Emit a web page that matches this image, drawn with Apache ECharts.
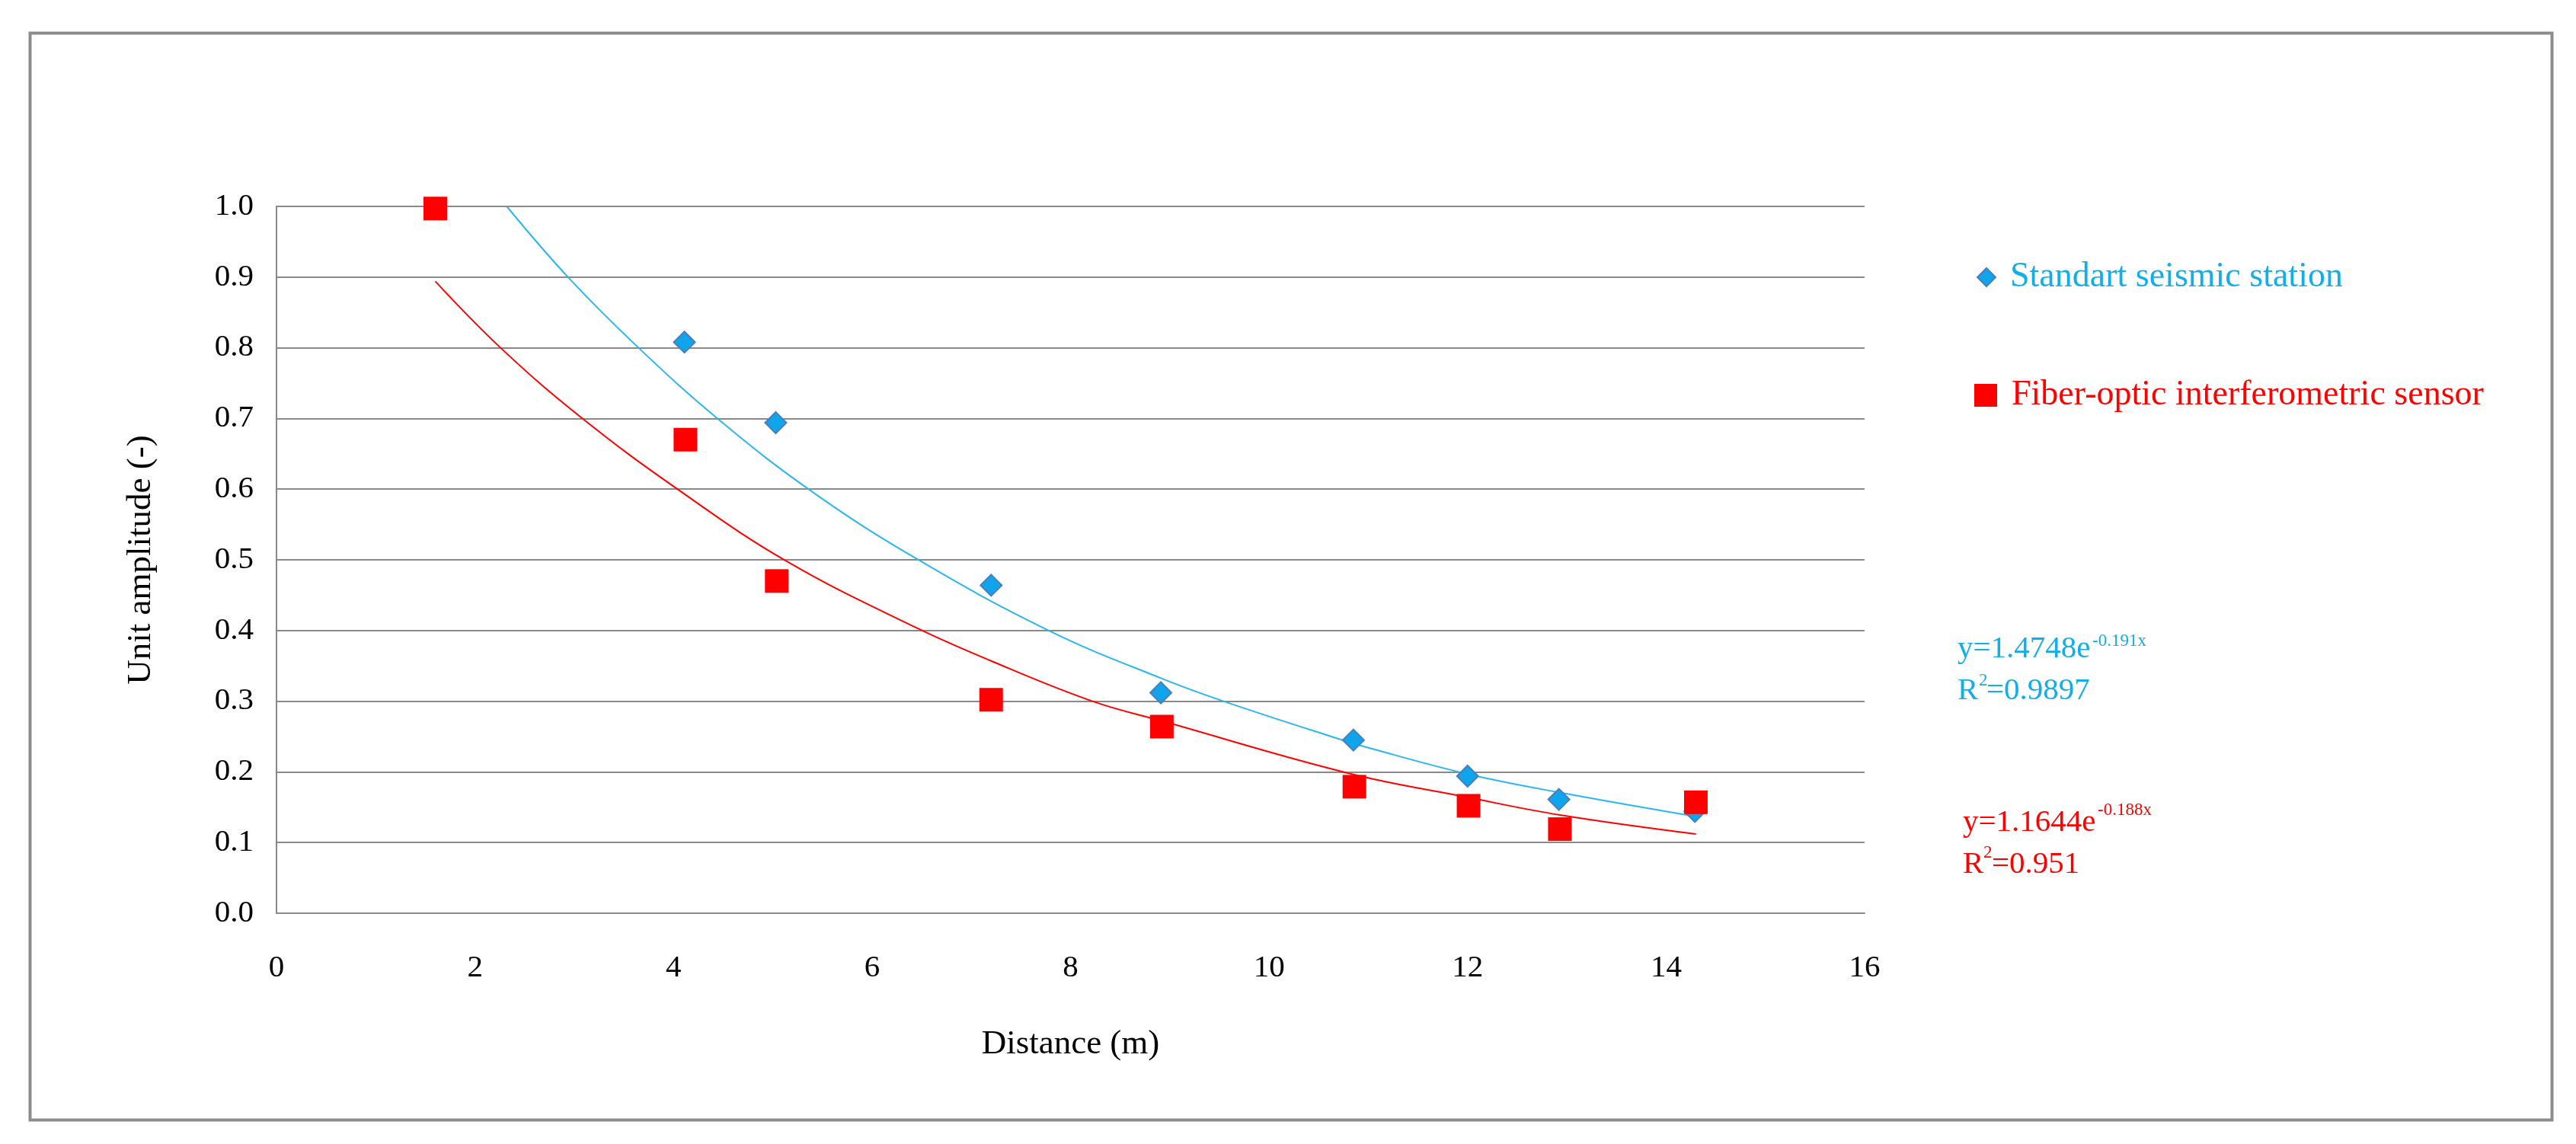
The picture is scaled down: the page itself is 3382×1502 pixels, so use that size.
<!DOCTYPE html>
<html>
<head>
<meta charset="utf-8">
<script src="https://cdn.jsdelivr.net/npm/echarts@6/dist/echarts.min.js"></script>
<style>
html,body{margin:0;padding:0;background:#fff;}
#chart{width:3382px;height:1502px;}
</style>
</head>
<body>
<div id="chart"></div>
<script>
// ---- data ----
const stationName = 'Standart seismic station';
const fiberName = 'Fiber-optic interferometric sensor';

const stationX = [4.11, 5.03, 7.20, 8.91, 10.85, 12.00, 12.92, 14.29];
const stationY = [0.808, 0.694, 0.464, 0.312, 0.245, 0.194, 0.161, 0.144];

const fiberX = [1.60, 4.12, 5.04, 7.20, 8.92, 10.86, 12.01, 12.93, 14.30];
const fiberY = [0.997, 0.670, 0.470, 0.302, 0.264, 0.179, 0.152, 0.119, 0.157];

// trend curves, points
const stationTrendX = [2.32, 2.95, 3.67, 4.45, 5.37, 6.43, 7.78, 8.92, 9.54, 10.65, 11.03, 12.00, 12.92, 14.29];
const stationTrendY = [1.000, 0.898, 0.797, 0.699, 0.599, 0.503, 0.400, 0.332, 0.300, 0.249, 0.233, 0.197, 0.171, 0.137];

const fiberTrendX = [1.60, 2.28, 3.09, 4.05, 5.14, 6.43, 7.20, 8.22, 8.92, 10.80, 12.00, 12.93, 14.30];
const fiberTrendY = [0.894, 0.797, 0.699, 0.599, 0.498, 0.405, 0.357, 0.300, 0.272, 0.198, 0.164, 0.139, 0.112];

const xTickValues = [0, 2, 4, 6, 8, 10, 12, 14, 16];
const yTickLabels = ['0.0','0.1','0.2','0.3','0.4','0.5','0.6','0.7','0.8','0.9','1.0'];

const stationEq = ['y=1.4748e', '-0.191x', 'R', '2', '=0.9897'];
const fiberEq = ['y=1.1644e', '-0.188x', 'R', '2', '=0.951'];

// ---- build ----
const zip = (xs, ys) => xs.map((x, i) => [x, ys[i]]);
const FONT = 'Liberation Serif';
const BLUE_TXT = '#12aeec';
const BLUE_LINE = '#2cb6ee';
const RED = '#ff0000';
const GRID = '#898989';

function txt(s, x, y, size, color) {
  return {
    type: 'text', x: x, y: y, silent: true,
    style: {text: s, fontFamily: FONT, fontSize: size, fill: color, align: 'left', verticalAlign: 'middle'}
  };
}
// eq: [main, sup, R, 2, r2value]; layout positions for annotation block
function eqGraphics(eq, color, x0, yMain, xSup, ySup, yR, x2, y2, xVal) {
  return [
    txt(eq[0], x0, yMain, 41, color),
    txt(eq[1], xSup, ySup, 23, color),
    txt(eq[2], x0, yR, 41, color),
    txt(eq[3], x2, y2, 23, color),
    txt(eq[4], xVal, yR, 41, color)
  ];
}

const chart = echarts.init(document.getElementById('chart'));

chart.setOption({
  backgroundColor: '#ffffff',
  animation: false,
  grid: {left: 363, top: 271, right: 3382 - 2448, bottom: 1502 - 1199, containLabel: false},
  xAxis: {
    type: 'value', min: 0, max: 16, interval: 2,
    name: 'Distance (m)', nameLocation: 'middle', nameGap: 150,
    nameTextStyle: {fontFamily: FONT, fontSize: 45, color: '#000'},
    axisLine: {show: true, lineStyle: {color: GRID, width: 2}},
    axisTick: {show: false},
    splitLine: {show: false},
    axisLabel: {
      fontFamily: FONT, fontSize: 41, color: '#000', margin: 52,
      formatter: v => xTickValues.includes(v) ? String(v) : ''
    }
  },
  yAxis: {
    type: 'value', min: 0, max: 1, interval: 0.1,
    name: 'Unit amplitude (-)', nameLocation: 'middle', nameGap: 155, nameRotate: 90,
    nameTextStyle: {fontFamily: FONT, fontSize: 45, color: '#000'},
    axisLine: {show: true, lineStyle: {color: GRID, width: 2}},
    axisTick: {show: false},
    splitLine: {show: true, lineStyle: {color: GRID, width: 2}},
    axisLabel: {
      fontFamily: FONT, fontSize: 41, color: '#000', margin: 30,
      padding: [16, 0, 0, 0],
      formatter: v => yTickLabels[Math.round(v * 10)]
    }
  },
  legend: [
    {
      orient: 'vertical', left: 2590, top: 336,
      itemWidth: 24, itemHeight: 24,
      data: [{name: stationName, icon: 'diamond', textStyle: {color: BLUE_TXT}}],
      textStyle: {fontFamily: FONT, fontSize: 46, padding: [0, 0, 0, 14]}
    },
    {
      orient: 'vertical', left: 2587, top: 491,
      itemWidth: 30, itemHeight: 30,
      data: [{name: fiberName, icon: 'rect', textStyle: {color: RED}}],
      textStyle: {fontFamily: FONT, fontSize: 46, padding: [0, 0, 0, 14]}
    }
  ],
  series: [
    {
      name: 'stationTrend', type: 'line', data: zip(stationTrendX, stationTrendY),
      smooth: 0.4, showSymbol: false, symbol: 'none', z: 2,
      lineStyle: {color: BLUE_LINE, width: 2}, silent: true
    },
    {
      name: 'fiberTrend', type: 'line', data: zip(fiberTrendX, fiberTrendY),
      smooth: 0.4, showSymbol: false, symbol: 'none', z: 2,
      lineStyle: {color: RED, width: 2}, silent: true
    },
    {
      name: stationName, type: 'scatter', data: zip(stationX, stationY),
      symbol: 'diamond', symbolSize: 28, z: 3,
      itemStyle: {color: '#0ea5ec', borderColor: '#4a7ebb', borderWidth: 2, opacity: 1}
    },
    {
      name: fiberName, type: 'scatter', data: zip(fiberX, fiberY),
      symbol: 'rect', symbolSize: 31, z: 4,
      itemStyle: {color: RED, opacity: 1}
    }
  ],
  graphic: [
    {
      type: 'rect', left: 37, top: 41, z: -1,
      shape: {x: 0, y: 0, width: 3348 - 37, height: 1468 - 41},
      style: {fill: 'none', stroke: '#8c8c8c', lineWidth: 4}
    }
  ].concat(
    eqGraphics(stationEq, BLUE_TXT, 2570, 852, 2747, 842, 907, 2598, 894, 2608),
    eqGraphics(fiberEq, RED, 2577, 1080, 2754, 1064, 1135, 2604, 1120, 2615)
  )
});
</script>
</body>
</html>
